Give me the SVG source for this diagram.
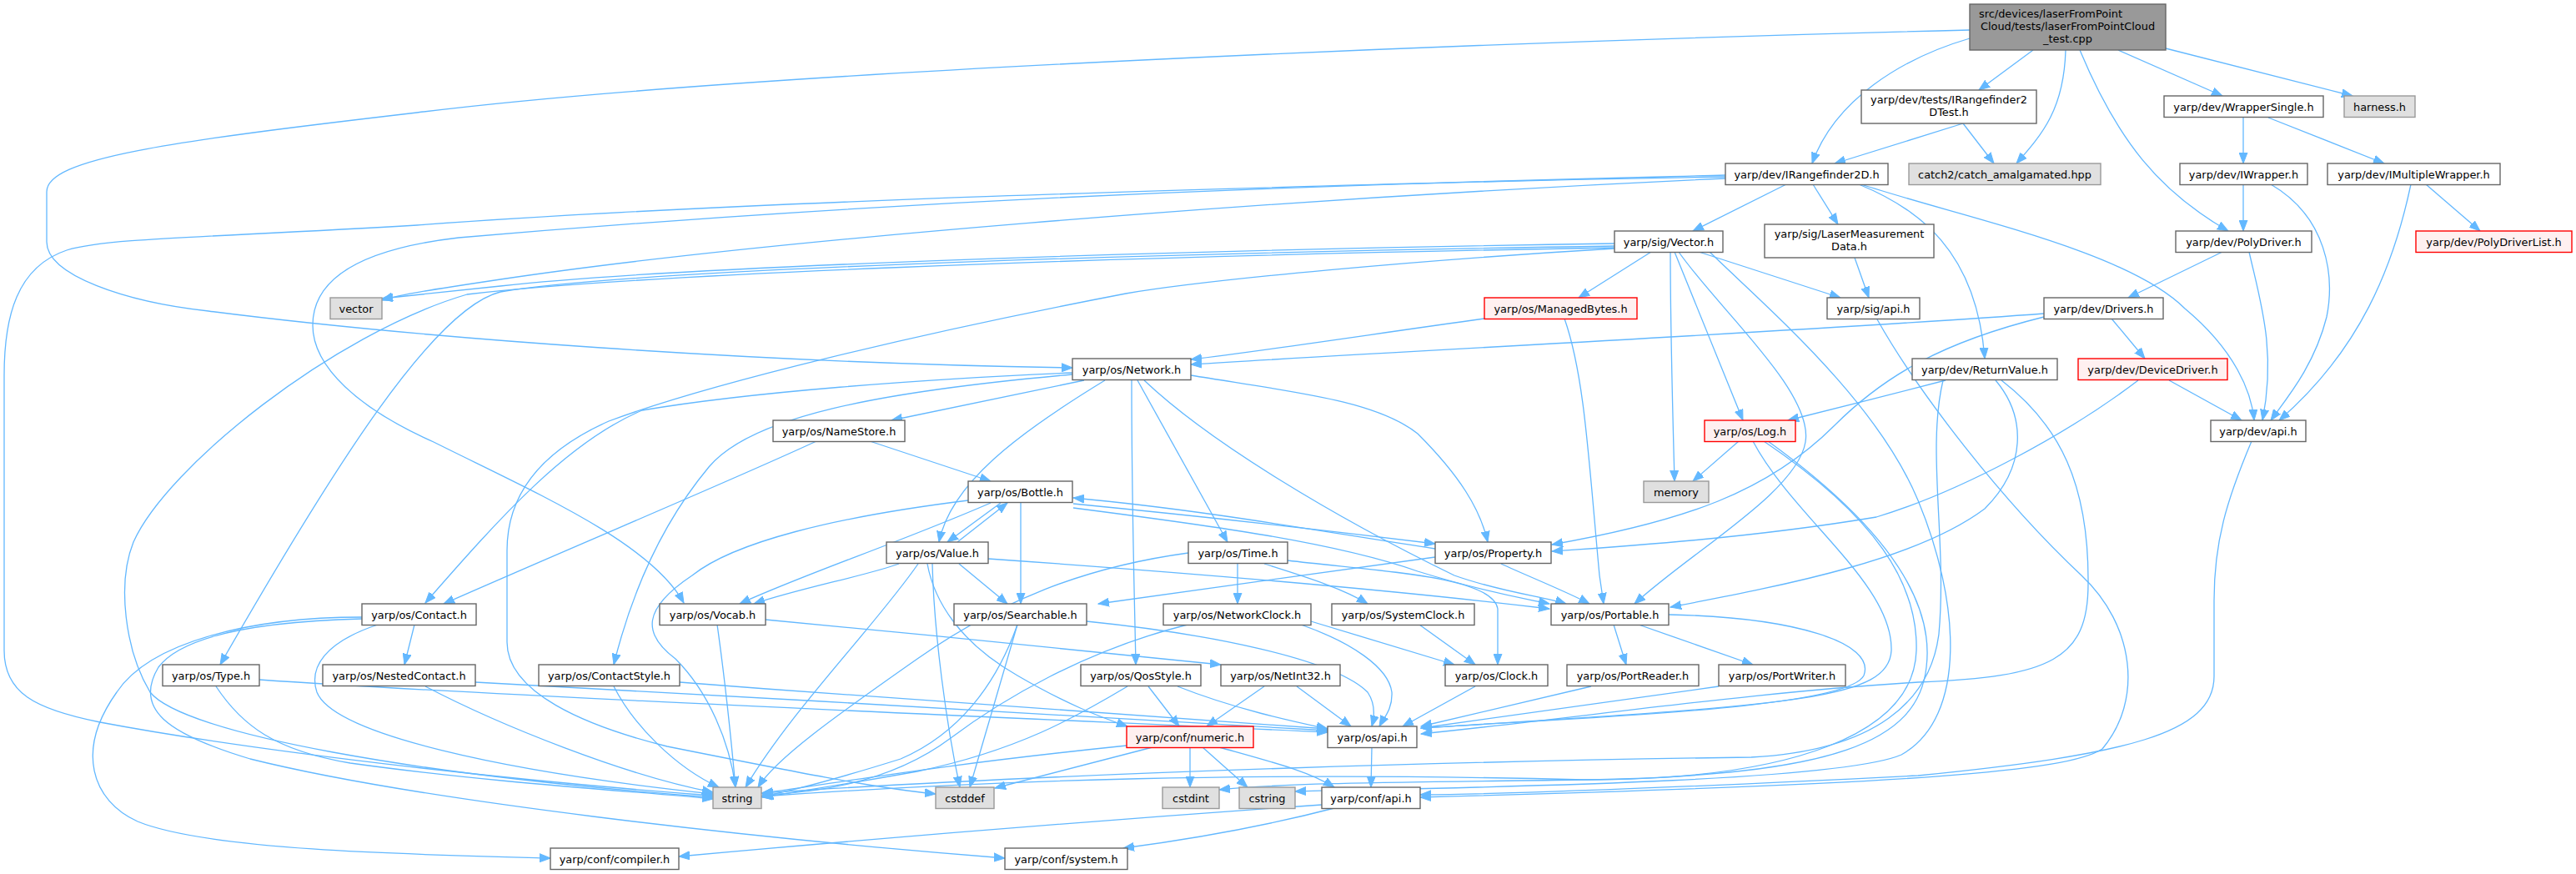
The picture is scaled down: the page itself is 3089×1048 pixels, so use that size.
<svg xmlns="http://www.w3.org/2000/svg" width="3089" height="1048" viewBox="0 0 3089 1048">
<defs>
<style>
rect{stroke-width:1.4}
.n rect{fill:#ffffff;stroke:#666666}
.x rect{fill:#e0e0e0;stroke:#999999}
.r rect{fill:#fff0f0;stroke:#ff0000}
.root rect{fill:#999999;stroke:#666666}
text{font-family:"DejaVu Sans","Liberation Sans",sans-serif;font-size:12.9px;fill:#000000;text-anchor:middle}
#edges path{fill:none;stroke:#63b8ff;stroke-width:1.3;marker-end:url(#a)}
</style>
<marker id="a" markerUnits="userSpaceOnUse" markerWidth="14" markerHeight="11" refX="13" refY="5.5" orient="auto" viewBox="0 0 14 11"><path d="M0,0.5 L13,5.5 L0,10.5 Z" fill="#63b8ff" stroke="#63b8ff" stroke-width="1"/></marker>
</defs>
<rect x="0" y="0" width="3089" height="1048" fill="#ffffff"/>
<g id="edges">
<path d="M2362,46 C2280,70 2200,120 2173,196"/>
<path d="M2438,60 L2373,108"/>
<path d="M2477,60 C2475,130 2450,160 2418,196"/>
<path d="M2494,60 C2540,170 2590,230 2672,277"/>
<path d="M2540,60 L2665,115"/>
<path d="M2597,58 L2821,115"/>
<path d="M2362,36 C1800,50 900,85 500,135 C200,170 56,190 56,230 L56,290 C56,330 150,362 250,373 C500,405 900,435 1286,441"/>
<path d="M2354,148 L2200,196"/>
<path d="M2354,148 L2391,196"/>
<path d="M2690,141 L2690,196"/>
<path d="M2720,141 L2859,196"/>
<path d="M2690,221 L2690,277"/>
<path d="M2723,221 C2790,260 2800,330 2790,380 C2775,440 2740,480 2723,504"/>
<path d="M2909,221 L2974,277"/>
<path d="M2891,221 C2870,320 2830,420 2733,504"/>
<path d="M2665,302 L2552,357"/>
<path d="M2697,302 C2710,360 2730,420 2713,504"/>
<path d="M2451,376 C2200,395 1700,420 1428,437"/>
<path d="M1780,382 C1650,400 1520,420 1428,431"/>
<path d="M2532,382 L2572,430"/>
<path d="M2451,380 C2330,410 2260,450 2200,510 C2120,590 2020,625 1861,653"/>
<path d="M2601,456 L2688,504"/>
<path d="M2564,456 C2480,520 2350,590 2250,620 C2100,645 1950,655 1861,661"/>
<path d="M2142,221 L2030,277"/>
<path d="M2174,221 L2204,269"/>
<path d="M2229,221 C2300,250 2370,300 2380,430"/>
<path d="M2232,221 C2350,260 2550,300 2620,370 C2680,420 2700,470 2703,504"/>
<path d="M2069,210 C1500,225 900,240 500,270 C250,285 130,285 80,300 C20,320 5,380 5,450 L5,780 C5,830 40,850 120,866 C300,900 600,935 855,954"/>
<path d="M2069,212 C1400,222 900,255 550,285 C420,300 375,340 375,390 C375,440 430,490 520,530 C640,590 780,650 820,723"/>
<path d="M2069,214 C1500,240 900,290 600,335 C520,347 480,353 458,360"/>
<path d="M1936,292 C1400,300 800,320 600,343 C530,350 490,355 458,358"/>
<path d="M1936,295 C1300,305 750,325 600,350 C520,370 400,560 264,797"/>
<path d="M1936,297 C1300,308 750,330 560,353 C400,400 200,560 160,650 C140,700 150,780 180,830 C220,880 500,930 855,956"/>
<path d="M1936,298 C1700,312 1450,335 1350,352 C1100,400 850,460 730,505 C640,545 608,600 608,660 L608,770 C608,830 700,870 800,895 C950,925 1050,945 1122,952"/>
<path d="M1980,302 L1893,357"/>
<path d="M2003,302 C2003,400 2006,500 2008,577"/>
<path d="M2008,302 L2090,504"/>
<path d="M2013,302 C2060,370 2175,470 2165,530 C2155,590 2030,660 1960,724"/>
<path d="M2037,302 L2207,357"/>
<path d="M2050,302 C2120,370 2250,480 2300,600 C2350,720 2360,860 2280,905 C2200,940 1700,945 1553,949"/>
<path d="M2224,309 L2241,357"/>
<path d="M1300,456 L1069,504"/>
<path d="M1325,456 C1220,520 1140,580 1126,650"/>
<path d="M1357,456 C1357,600 1360,700 1362,797"/>
<path d="M1364,456 L1472,650"/>
<path d="M1372,456 C1450,530 1600,620 1744,690 C1800,710 1850,715 1878,724"/>
<path d="M1428,450 C1550,470 1650,480 1700,520 C1750,570 1775,610 1784,650"/>
<path d="M1286,447 C1100,455 900,470 770,492 C680,530 600,620 510,723"/>
<path d="M1286,449 C1050,470 900,500 850,560 C800,620 760,700 736,797"/>
<path d="M979,529 C880,575 700,650 532,724"/>
<path d="M1043,529 L1188,577"/>
<path d="M1200,603 L1136,650"/>
<path d="M1148,650 L1208,603"/>
<path d="M1161,600 C1000,620 880,650 830,690 C770,730 770,760 810,790 C850,830 875,890 882,944"/>
<path d="M1188,603 C1080,650 960,690 887,724"/>
<path d="M1224,603 L1224,724"/>
<path d="M1287,604 C1450,620 1600,637 1721,652"/>
<path d="M1721,658 C1600,640 1450,612 1287,597"/>
<path d="M1287,609 C1450,630 1600,650 1700,685 C1780,710 1830,718 1858,724"/>
<path d="M1078,676 C1040,690 960,705 904,724"/>
<path d="M1101,676 C1050,750 950,850 894,944"/>
<path d="M1118,676 C1120,760 1135,870 1151,944"/>
<path d="M1150,676 L1208,724"/>
<path d="M1112,676 C1120,720 1150,770 1220,810 C1280,845 1320,860 1352,871"/>
<path d="M1185,670 C1400,685 1650,705 1858,730"/>
<path d="M1484,676 L1484,724"/>
<path d="M1516,676 C1560,690 1610,705 1640,724"/>
<path d="M1544,672 C1650,685 1790,690 1796,730 L1796,797"/>
<path d="M1425,663 C1300,680 1200,720 1100,790 C1000,860 930,910 909,944"/>
<path d="M1721,668 C1600,685 1450,705 1317,724"/>
<path d="M1800,676 C1830,690 1880,710 1906,724"/>
<path d="M1876,382 C1900,450 1905,550 1918,690 L1923,724"/>
<path d="M2333,456 C2280,470 2200,490 2144,504"/>
<path d="M2393,456 C2430,500 2430,560 2380,610 C2300,670 2150,700 2003,728"/>
<path d="M2400,456 C2470,510 2505,580 2504,700 C2504,790 2460,812 2300,818 C2100,830 1900,860 1704,880"/>
<path d="M2330,456 C2310,540 2335,650 2325,760 C2315,840 2250,900 2100,908 C1800,912 1300,925 913,951"/>
<path d="M2085,529 L2030,577"/>
<path d="M2102,529 C2150,620 2270,700 2268,780 C2265,840 2150,845 1704,873"/>
<path d="M2115,529 C2250,620 2300,700 2298,780 C2295,880 2150,935 1900,935 C1500,925 1200,935 913,955"/>
<path d="M2120,529 C2260,630 2320,720 2310,800 C2300,890 2200,930 1900,935 C1700,938 1550,938 1462,947"/>
<path d="M2251,383 C2300,470 2400,600 2496,690 C2560,750 2570,840 2521,898 C2480,925 2300,940 1703,956"/>
<path d="M2700,529 C2670,600 2655,650 2655,720 L2655,811 C2655,880 2550,905 2300,930 C2000,945 1800,952 1703,953"/>
<path d="M1220,749 C1195,820 1150,880 1080,910 C1000,935 950,948 914,955"/>
<path d="M1220,749 L1163,944"/>
<path d="M1303,745 C1450,760 1600,790 1640,830 C1650,845 1648,860 1645,871"/>
<path d="M1572,745 L1744,797"/>
<path d="M1560,749 C1620,770 1665,800 1669,830 C1670,850 1660,860 1654,871"/>
<path d="M1424,749 C1300,780 1200,840 1140,885 C1080,930 1000,950 914,953"/>
<path d="M1702,749 L1769,797"/>
<path d="M1935,749 L1950,797"/>
<path d="M1965,749 L2102,797"/>
<path d="M2001,737 C2150,740 2250,770 2235,810 C2215,850 1900,860 1704,873"/>
<path d="M1908,823 L1704,871"/>
<path d="M2061,823 L1704,873"/>
<path d="M1769,823 L1682,871"/>
<path d="M1352,823 C1290,860 1220,900 1100,925 C1000,943 950,950 914,956"/>
<path d="M1377,823 L1414,871"/>
<path d="M1412,823 C1480,850 1550,865 1592,874"/>
<path d="M1516,823 L1447,871"/>
<path d="M1555,823 L1620,871"/>
<path d="M860,749 C870,820 878,900 882,944"/>
<path d="M918,743 C1100,760 1350,785 1464,797"/>
<path d="M497,749 L485,797"/>
<path d="M434,740 C300,740 180,770 140,830 C90,900 110,960 165,985 C250,1020 500,1025 660,1029"/>
<path d="M434,742 C320,745 220,760 190,800 C160,850 200,880 300,910 C500,960 900,1005 1205,1029"/>
<path d="M453,749 C390,770 370,800 380,830 C400,880 600,925 855,952"/>
<path d="M311,815 C600,835 1200,860 1592,878"/>
<path d="M259,823 C290,870 330,900 420,915 C600,940 780,950 855,958"/>
<path d="M570,818 C900,835 1300,860 1592,876"/>
<path d="M510,823 C600,870 750,930 855,950"/>
<path d="M815,818 C1100,840 1400,862 1592,874"/>
<path d="M736,823 C760,870 810,920 862,944"/>
<path d="M1351,894 C1100,920 1000,940 914,951"/>
<path d="M1382,896 L1193,945"/>
<path d="M1427,896 L1427,944"/>
<path d="M1442,896 L1496,944"/>
<path d="M1462,896 C1530,915 1570,925 1600,944"/>
<path d="M1645,896 L1644,944"/>
<path d="M1585,965 C1300,985 1000,1010 814,1027"/>
<path d="M1600,969 C1500,995 1400,1010 1347,1017"/>
</g>
<g id="n_main" class="root"><rect x="2362" y="5" width="235" height="55"/><text x="2373" y="20.7" style="text-anchor:start">src/devices/laserFromPoint</text><text x="2479.5" y="36">Cloud/tests/laserFromPointCloud</text><text x="2479.5" y="50.7">_test.cpp</text></g>
<g id="n_test" class="n"><rect x="2232" y="108" width="210" height="40"/><text x="2337" y="124">yarp/dev/tests/IRangefinder2</text><text x="2337" y="138.7">DTest.h</text></g>
<g id="n_catch" class="x"><rect x="2289" y="196" width="230" height="25.5"/><text x="2404" y="213.5">catch2/catch_amalgamated.hpp</text></g>
<g id="n_ws" class="n"><rect x="2595" y="115" width="191" height="25.5"/><text x="2690.5" y="132.5">yarp/dev/WrapperSingle.h</text></g>
<g id="n_harness" class="x"><rect x="2811" y="115" width="85" height="25.5"/><text x="2853.5" y="132.5">harness.h</text></g>
<g id="n_ird" class="n"><rect x="2069" y="196" width="195" height="25.5"/><text x="2166.5" y="213.5">yarp/dev/IRangefinder2D.h</text></g>
<g id="n_iw" class="n"><rect x="2614" y="196" width="153" height="25.5"/><text x="2690.5" y="213.5">yarp/dev/IWrapper.h</text></g>
<g id="n_imw" class="n"><rect x="2791" y="196" width="207" height="25.5"/><text x="2894.5" y="213.5">yarp/dev/IMultipleWrapper.h</text></g>
<g id="n_vec" class="n"><rect x="1936" y="277" width="130" height="25.5"/><text x="2001" y="294.5">yarp/sig/Vector.h</text></g>
<g id="n_lmd" class="n"><rect x="2116" y="269" width="203" height="40"/><text x="2217.5" y="285">yarp/sig/LaserMeasurement</text><text x="2217.5" y="299.7">Data.h</text></g>
<g id="n_pd" class="n"><rect x="2609" y="277" width="163" height="25.5"/><text x="2690.5" y="294.5">yarp/dev/PolyDriver.h</text></g>
<g id="n_pdl" class="r"><rect x="2897" y="277" width="187" height="25.5"/><text x="2990.5" y="294.5">yarp/dev/PolyDriverList.h</text></g>
<g id="n_vector" class="x"><rect x="396" y="357" width="62" height="25.5"/><text x="427" y="374.5">vector</text></g>
<g id="n_mb" class="r"><rect x="1780" y="357" width="183" height="25.5"/><text x="1871.5" y="374.5">yarp/os/ManagedBytes.h</text></g>
<g id="n_sigapi" class="n"><rect x="2191" y="357" width="111" height="25.5"/><text x="2246.5" y="374.5">yarp/sig/api.h</text></g>
<g id="n_drv" class="n"><rect x="2451" y="357" width="143" height="25.5"/><text x="2522.5" y="374.5">yarp/dev/Drivers.h</text></g>
<g id="n_net" class="n"><rect x="1286" y="430" width="142" height="25.5"/><text x="1357" y="447.5">yarp/os/Network.h</text></g>
<g id="n_rv" class="n"><rect x="2293" y="430" width="174" height="25.5"/><text x="2380" y="447.5">yarp/dev/ReturnValue.h</text></g>
<g id="n_dd" class="r"><rect x="2492" y="430" width="179" height="25.5"/><text x="2581.5" y="447.5">yarp/dev/DeviceDriver.h</text></g>
<g id="n_ns" class="n"><rect x="927" y="504" width="158" height="25.5"/><text x="1006" y="521.5">yarp/os/NameStore.h</text></g>
<g id="n_log" class="r"><rect x="2044" y="504" width="109" height="25.5"/><text x="2098.5" y="521.5">yarp/os/Log.h</text></g>
<g id="n_devapi" class="n"><rect x="2651" y="504" width="114" height="25.5"/><text x="2708" y="521.5">yarp/dev/api.h</text></g>
<g id="n_bottle" class="n"><rect x="1161" y="577" width="125" height="25.5"/><text x="1223.5" y="594.5">yarp/os/Bottle.h</text></g>
<g id="n_memory" class="x"><rect x="1971" y="577" width="78" height="25.5"/><text x="2010" y="594.5">memory</text></g>
<g id="n_value" class="n"><rect x="1063" y="650" width="122" height="25.5"/><text x="1124" y="667.5">yarp/os/Value.h</text></g>
<g id="n_time" class="n"><rect x="1425" y="650" width="119" height="25.5"/><text x="1484.5" y="667.5">yarp/os/Time.h</text></g>
<g id="n_prop" class="n"><rect x="1721" y="650" width="139" height="25.5"/><text x="1790.5" y="667.5">yarp/os/Property.h</text></g>
<g id="n_vocab" class="n"><rect x="791" y="724" width="127" height="25.5"/><text x="854.5" y="741.5">yarp/os/Vocab.h</text></g>
<g id="n_contact" class="n"><rect x="434" y="724" width="137" height="25.5"/><text x="502.5" y="741.5">yarp/os/Contact.h</text></g>
<g id="n_search" class="n"><rect x="1144" y="724" width="159" height="25.5"/><text x="1223.5" y="741.5">yarp/os/Searchable.h</text></g>
<g id="n_nclock" class="n"><rect x="1395" y="724" width="177" height="25.5"/><text x="1483.5" y="741.5">yarp/os/NetworkClock.h</text></g>
<g id="n_sclock" class="n"><rect x="1597" y="724" width="171" height="25.5"/><text x="1682.5" y="741.5">yarp/os/SystemClock.h</text></g>
<g id="n_portable" class="n"><rect x="1860" y="724" width="141" height="25.5"/><text x="1930.5" y="741.5">yarp/os/Portable.h</text></g>
<g id="n_type" class="n"><rect x="195" y="797" width="116" height="25.5"/><text x="253" y="814.5">yarp/os/Type.h</text></g>
<g id="n_nested" class="n"><rect x="387" y="797" width="183" height="25.5"/><text x="478.5" y="814.5">yarp/os/NestedContact.h</text></g>
<g id="n_cstyle" class="n"><rect x="646" y="797" width="169" height="25.5"/><text x="730.5" y="814.5">yarp/os/ContactStyle.h</text></g>
<g id="n_qos" class="n"><rect x="1296" y="797" width="144" height="25.5"/><text x="1368" y="814.5">yarp/os/QosStyle.h</text></g>
<g id="n_ni32" class="n"><rect x="1464" y="797" width="143" height="25.5"/><text x="1535.5" y="814.5">yarp/os/NetInt32.h</text></g>
<g id="n_clock" class="n"><rect x="1733" y="797" width="123" height="25.5"/><text x="1794.5" y="814.5">yarp/os/Clock.h</text></g>
<g id="n_preader" class="n"><rect x="1879" y="797" width="158" height="25.5"/><text x="1958" y="814.5">yarp/os/PortReader.h</text></g>
<g id="n_pwriter" class="n"><rect x="2061" y="797" width="152" height="25.5"/><text x="2137" y="814.5">yarp/os/PortWriter.h</text></g>
<g id="n_numeric" class="r"><rect x="1351" y="871" width="152" height="25.5"/><text x="1427" y="888.5">yarp/conf/numeric.h</text></g>
<g id="n_osapi" class="n"><rect x="1592" y="871" width="107" height="25.5"/><text x="1645.5" y="888.5">yarp/os/api.h</text></g>
<g id="n_string" class="x"><rect x="855" y="944" width="58" height="25.5"/><text x="884" y="961.5">string</text></g>
<g id="n_cstddef" class="x"><rect x="1122" y="944" width="70" height="25.5"/><text x="1157" y="961.5">cstddef</text></g>
<g id="n_cstdint" class="x"><rect x="1394" y="944" width="68" height="25.5"/><text x="1428" y="961.5">cstdint</text></g>
<g id="n_cstring" class="x"><rect x="1486" y="944" width="67" height="25.5"/><text x="1519.5" y="961.5">cstring</text></g>
<g id="n_confapi" class="n"><rect x="1585" y="944" width="118" height="25.5"/><text x="1644" y="961.5">yarp/conf/api.h</text></g>
<g id="n_compiler" class="n"><rect x="660" y="1017" width="154" height="25.5"/><text x="737" y="1034.5">yarp/conf/compiler.h</text></g>
<g id="n_system" class="n"><rect x="1205" y="1017" width="147" height="25.5"/><text x="1278.5" y="1034.5">yarp/conf/system.h</text></g>
</svg>
